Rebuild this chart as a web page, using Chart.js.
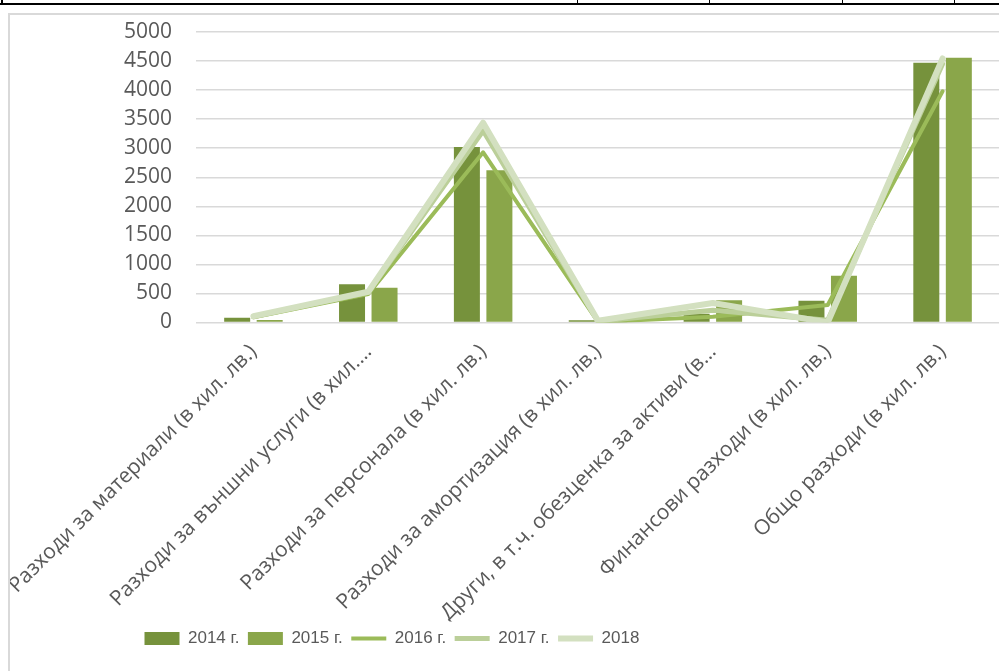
<!DOCTYPE html>
<html>
<head>
<meta charset="utf-8">
<script src="https://cdn.jsdelivr.net/npm/chart.js@4"></script>
<style>
body{margin:0;background:#fff;overflow:hidden;width:999px;height:671px;position:relative;}
.tline{position:absolute;background:#000;}
#frame{position:absolute;left:8px;top:13px;width:1200px;height:800px;border-left:2px solid #d9d9d9;border-top:2px solid #d9d9d9;}
#wrap{position:absolute;left:10px;top:14px;width:990px;height:657px;}
</style>
</head>
<body>
<div class="tline" style="left:0;top:3px;width:999px;height:2px"></div>
<div class="tline" style="left:1px;top:0;width:2px;height:5px"></div>
<div class="tline" style="left:577px;top:0;width:1px;height:5px"></div>
<div class="tline" style="left:709px;top:0;width:1px;height:5px"></div>
<div class="tline" style="left:842px;top:0;width:1px;height:5px"></div>
<div class="tline" style="left:954px;top:0;width:1px;height:5px"></div>
<div id="frame"></div>
<div id="wrap"><canvas id="main"></canvas></div>
<script>
const categories = [
    "Разходи за материали (в хил. лв.)",
    "Разходи за външни услуги (в хил.…",
    "Разходи за персонала (в хил. лв.)",
    "Разходи за амортизация (в хил. лв.)",
    "Други, в т.ч. обезценка за активи (в…",
    "Финансови разходи (в хил. лв.)",
    "Общо разходи (в хил. лв.)"
];
const seriesNames = ["2014 г.", "2015 г.", "2016 г.", "2017 г.", "2018"];
const v2014 = [80, 660, 3020, 40, 150, 375, 4470];
const v2015 = [45, 600, 2620, 5, 385, 805, 4555];
const v2016 = [90, 490, 2930, 10, 100, 300, 3980];
const v2017 = [100, 520, 3300, 20, 210, 40, 4450];
const v2018 = [110, 530, 3440, 30, 335, 0, 4545];
const yTicks = [0, 500, 1000, 1500, 2000, 2500, 3000, 3500, 4000, 4500, 5000];

const grey = '#595959';

// move legend so the first box sits where excel put it
const legendShift = {
    id: 'legendShift',
    afterLayout(chart){
        chart.legend.left = 126;
    }
};

const lineSet = (i, data, color, w) => ({
    type: 'line',
    label: seriesNames[i],
    data: data,
    borderColor: color,
    backgroundColor: color,
    borderWidth: w,
    borderCapStyle: 'round',
    borderJoinStyle: 'round',
    pointRadius: 0,
    pointHoverRadius: 0,
    pointStyle: 'line',
    tension: 0,
    order: 5 - i   // 2018 drawn last, on top
});

new Chart(document.getElementById('main'), {
    type: 'bar',
    data: {
        labels: categories,
        datasets: [
            {label: seriesNames[0], data: v2014, backgroundColor: '#76923c', pointStyle: 'rect', order: 10,
             categoryPercentage: 0.566, barPercentage: 0.8},
            {label: seriesNames[1], data: v2015, backgroundColor: '#8aa64a', pointStyle: 'rect', order: 10,
             categoryPercentage: 0.566, barPercentage: 0.8},
            lineSet(2, v2016, '#9bbb59', 4),
            lineSet(3, v2017, '#bbcf99', 5),
            lineSet(4, v2018, '#d3e0c0', 6)
        ]
    },
    options: {
        responsive: true,
        maintainAspectRatio: false,
        animation: false,
        layout: {padding: {top: 18, bottom: 14, left: 0, right: 0}},
        plugins: {
            tooltip: {enabled: false},
            legend: {
                position: 'bottom',
                align: 'start',
                labels: {
                    usePointStyle: true,
                    pointStyleWidth: 35,
                    boxHeight: 13,
                    padding: 8.5,
                    color: grey,
                    font: {family: "'Liberation Sans', sans-serif", size: 17},
                    sort: (a, b) => a.datasetIndex - b.datasetIndex
                }
            }
        },
        scales: {
            x: {
                offset: true,
                grid: {display: false},
                border: {display: false},
                ticks: {
                    autoSkip: false,
                    minRotation: 45,
                    maxRotation: 45,
                    padding: 9,
                    color: grey,
                    font: {family: "'Open Sans', sans-serif", size: 21}
                },
                afterFit: s => {
                    s.height = 299;
                    s.paddingLeft = 0;
                    s.paddingRight = 0;
                }
            },
            y: {
                min: 0,
                max: 5000,
                afterBuildTicks: s => { s.ticks = yTicks.map(v => ({value: v})); },
                grid: {color: '#d9d9d9', lineWidth: 1.5, drawTicks: false},
                border: {display: false},
                ticks: {
                    padding: 24,
                    color: grey,
                    font: {family: "'Open Sans', sans-serif", size: 21},
                    callback: v => String(v)
                },
                afterFit: s => {
                    s.width = 186;
                    s.paddingTop = 0;
                    s.paddingBottom = 0;
                }
            }
        }
    },
    plugins: [legendShift]
});
</script>
</body>
</html>
